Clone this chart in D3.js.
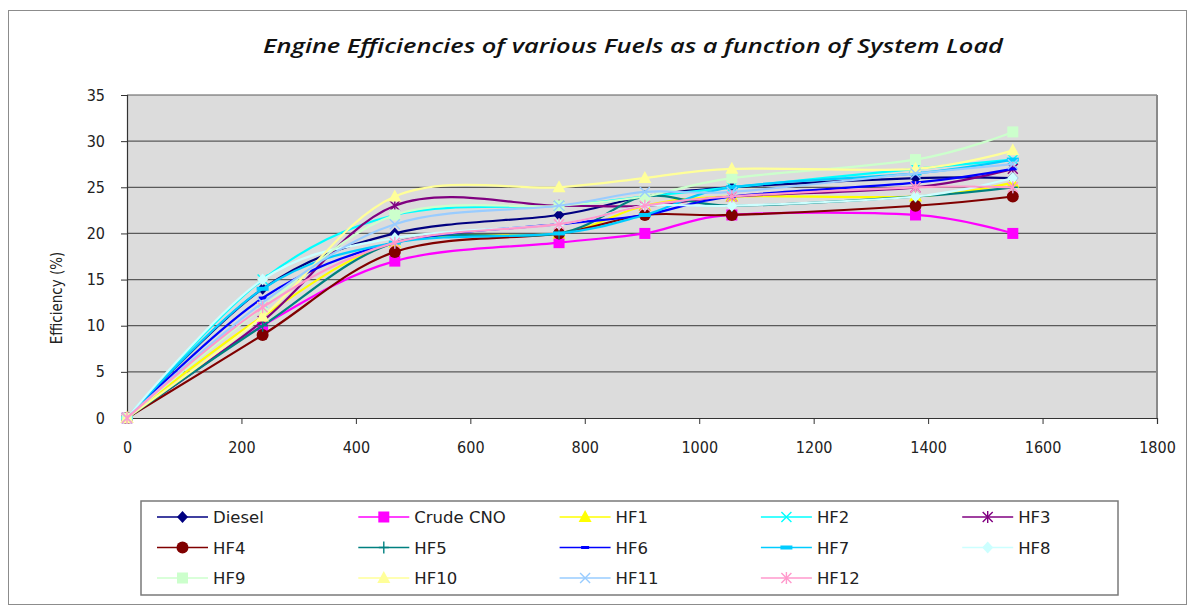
<!DOCTYPE html>
<html>
<head>
<meta charset="utf-8">
<script src="https://cdn.jsdelivr.net/npm/d3@7"></script>
<style>
  body { margin: 0; background: #fff; }
  .tick text { font-family: "Liberation Sans Narrow", "DejaVu Sans Condensed", sans-serif; font-size: 16px; fill: #222; }
</style>
</head>
<body>
<div id="chart"></div>
<script>
// Engine efficiencies line chart

// Load values (x) shared by every series
const loads = [0, 237, 468, 755, 905, 1057, 1378, 1548];

// Series values (efficiency %)
const diesel   = [0, 14, 20, 22, 24, 25, 26, 26];
const crudeCNO = [0, 10, 17, 19, 20, 22, 22, 20];
const hf1  = [0, 11, 19, 20, 23, 24, 24, 25.5];
const hf2  = [0, 15, 22, 23, 24, 25, 27, 28];
const hf3  = [0, 10.5, 23, 23, 23, 24, 25, 27];
const hf4  = [0, 9, 18, 20, 22, 22, 23, 24];
const hf5  = [0, 10, 19, 20, 24, 23, 24, 25];
const hf6  = [0, 13, 19, 21, 22, 24, 25.5, 27];
const hf7  = [0, 14, 19, 20, 22, 25, 26.5, 28];
const hf8  = [0, 15, 19.5, 21, 23, 23, 24, 26];
const hf9  = [0, 12, 22, 23, 24, 26, 28, 31];
const hf10 = [0, 11, 24, 25, 26, 27, 27, 29];
const hf11 = [0, 12.5, 21, 23, 24.5, 24.5, 26.5, 27.5];
const hf12 = [0, 12, 19, 21, 23, 24, 25, 25];

const seriesNames = ["Diesel", "Crude CNO", "HF1", "HF2", "HF3", "HF4", "HF5", "HF6", "HF7", "HF8", "HF9", "HF10", "HF11", "HF12"];
const seriesValues = [diesel, crudeCNO, hf1, hf2, hf3, hf4, hf5, hf6, hf7, hf8, hf9, hf10, hf11, hf12];
const seriesColors = ["#000080", "#FF00FF", "#FFFF00", "#00FFFF", "#800080", "#800000", "#008080",
                      "#0000FF", "#00CCFF", "#CCFFFF", "#CCFFCC", "#FFFF99", "#99CCFF", "#FF99CC"];
const seriesMarkers = ["diamond", "square", "triangle", "x", "star", "circle", "plus",
                       "dash", "bar", "diamond", "square", "triangle", "x", "star"];

const xTicks = [0, 200, 400, 600, 800, 1000, 1200, 1400, 1600, 1800];
const yTicks = [0, 5, 10, 15, 20, 25, 30, 35];

const W = 1195, H = 609;
const plot = {left: 127, right: 1157, top: 95, bottom: 418};

const svg = d3.select("#chart").append("svg")
  .attr("width", W).attr("height", H);

// outer chart frame
svg.append("rect")
  .attr("x", 8.5).attr("y", 10.5)
  .attr("width", 1178).attr("height", 594)
  .attr("fill", "#fff").attr("stroke", "#8c8c8c").attr("stroke-width", 1);

const x = d3.scaleLinear().domain([0, 1800]).range([plot.left, plot.right]);
const y = d3.scaleLinear().domain([0, 35]).range([plot.bottom, plot.top]);

// plot area background
svg.append("rect")
  .attr("x", plot.left).attr("y", plot.top)
  .attr("width", plot.right - plot.left).attr("height", plot.bottom - plot.top)
  .attr("fill", "#dcdcdc");

// horizontal gridlines
svg.append("g").selectAll("line")
  .data(yTicks.slice(1))
  .enter().append("line")
    .attr("x1", plot.left).attr("x2", plot.right)
    .attr("y1", d => y(d)).attr("y2", d => y(d))
    .attr("stroke", "#5a5a5a").attr("stroke-width", 1.2);

// right border of the plot
svg.append("line")
  .attr("x1", plot.right).attr("x2", plot.right)
  .attr("y1", plot.top).attr("y2", plot.bottom)
  .attr("stroke", "#8a8a8a").attr("stroke-width", 2);

// axes
const xAxis = svg.append("g")
  .attr("transform", `translate(0,${plot.bottom})`)
  .call(d3.axisBottom(x).tickValues(xTicks).tickSize(6).tickPadding(18).tickFormat(d3.format("d")));
const yAxis = svg.append("g")
  .attr("transform", `translate(${plot.left},0)`)
  .call(d3.axisLeft(y).tickValues(yTicks).tickSize(6).tickPadding(16));
[xAxis, yAxis].forEach(a => {
  a.select(".domain").attr("stroke", "#333").attr("stroke-width", 1.2);
  a.selectAll(".tick line").attr("stroke", "#333");
});

// axis title
svg.append("text")
  .attr("transform", "translate(62,298) rotate(-90)")
  .attr("text-anchor", "middle")
  .attr("font-family", "'Liberation Sans Narrow', 'DejaVu Sans Condensed', sans-serif")
  .attr("font-size", 15).attr("fill", "#222")
  .text("Efficiency (%)");

// chart title
svg.append("text")
  .attr("x", 633).attr("y", 53)
  .attr("text-anchor", "middle")
  .attr("font-family", "'Open Sans', sans-serif")
  .attr("font-style", "italic").attr("font-weight", 600)
  .attr("font-size", 19).attr("fill", "#111")
  .attr("textLength", 740).attr("lengthAdjust", "spacingAndGlyphs")
  .text("Engine Efficiencies of various Fuels as a function of System Load");

// marker drawing helper
function drawMarker(g, type, color, cx, cy) {
  const m = g.append("g").attr("transform", `translate(${cx},${cy})`);
  if (type === "diamond") {
    m.append("path").attr("d", "M0,-6L5.5,0L0,6L-5.5,0Z").attr("fill", color);
  } else if (type === "square") {
    m.append("rect").attr("x", -5.5).attr("y", -5.5).attr("width", 11).attr("height", 11).attr("fill", color);
  } else if (type === "triangle") {
    m.append("path").attr("d", "M0,-7L6.5,5L-6.5,5Z").attr("fill", color);
  } else if (type === "circle") {
    m.append("circle").attr("r", 6).attr("fill", color);
  } else if (type === "x" || type === "star") {
    m.append("path").attr("d", "M-5,-5L5,5M-5,5L5,-5").attr("stroke", color).attr("stroke-width", 1.4);
    if (type === "star") m.append("path").attr("d", "M0,-6L0,6").attr("stroke", color).attr("stroke-width", 1.4);
  } else if (type === "plus") {
    m.append("path").attr("d", "M-5,0L5,0M0,-6L0,6").attr("stroke", color).attr("stroke-width", 1.4);
  } else if (type === "dash") {
    m.append("rect").attr("x", -4).attr("y", -1.5).attr("width", 8).attr("height", 3).attr("fill", color);
  } else if (type === "bar") {
    m.append("rect").attr("x", -6).attr("y", -2).attr("width", 12).attr("height", 4).attr("fill", color);
  }
}

// smoothed series lines with markers
const line = d3.line()
  .x(d => x(d[0]))
  .y(d => y(d[1]))
  .curve(d3.curveCardinal.tension(0));

const seriesG = svg.append("g");
seriesValues.forEach((vals, i) => {
  const pts = vals.map((v, j) => [loads[j], v]);
  seriesG.append("path")
    .datum(pts)
    .attr("fill", "none")
    .attr("stroke", seriesColors[i])
    .attr("stroke-width", 2.2)
    .attr("d", line);
  pts.forEach(p => drawMarker(seriesG, seriesMarkers[i], seriesColors[i], x(p[0]), y(p[1])));
});

// legend
const legend = svg.append("g");
legend.append("rect")
  .attr("x", 141).attr("y", 501).attr("width", 977).attr("height", 94)
  .attr("fill", "#fff").attr("stroke", "#7a7a7a").attr("stroke-width", 1.5);

seriesNames.forEach((name, i) => {
  const col = i % 5, row = Math.floor(i / 5);
  const lx = 157 + col * 201.3, ly = 517 + row * 30.5;
  legend.append("line")
    .attr("x1", lx).attr("x2", lx + 51)
    .attr("y1", ly).attr("y2", ly)
    .attr("stroke", seriesColors[i]).attr("stroke-width", 1.6);
  drawMarker(legend, seriesMarkers[i], seriesColors[i], lx + 25.5, ly);
  legend.append("text")
    .attr("x", lx + 56).attr("y", ly + 6)
    .attr("font-family", "'DejaVu Sans', sans-serif")
    .attr("font-size", 16.5).attr("fill", "#222")
    .text(name);
});
</script>
</body>
</html>
